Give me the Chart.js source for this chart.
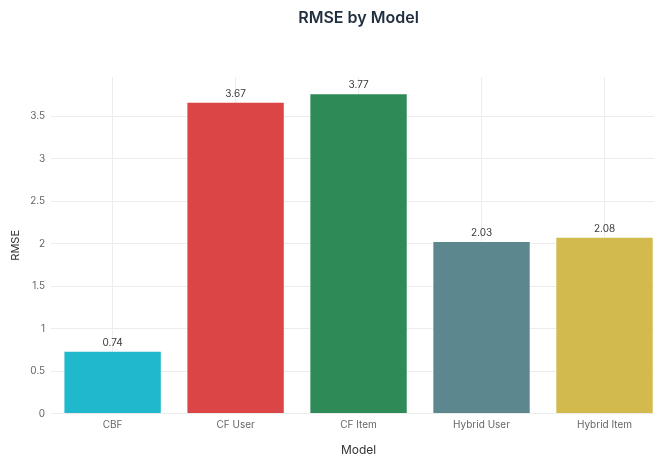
<!DOCTYPE html>
<html>
<head>
<meta charset="utf-8">
<script src="https://cdn.jsdelivr.net/npm/chart.js@4"></script>
<style>
  html, body { margin: 0; padding: 0; background: #fff; overflow: hidden; }
  #wrap { width: 666px; height: 454px; }
</style>
</head>
<body>
<div id="wrap"><canvas id="chart"></canvas></div>
<script>
// Chart data
const models = ['CBF', 'CF User', 'CF Item', 'Hybrid User', 'Hybrid Item'];
const rmse = [0.74, 3.67, 3.77, 2.03, 2.08];
const barColours = ['#1FB8CD', '#DB4545', '#2E8B57', '#5D878F', '#D2BA4C'];
const chartTitle = 'RMSE by Model';
const fontFamily = 'Inter, "Open Sans", Roboto, sans-serif';

// Title centred over the plot area (not the canvas)
const plotTitle = {
    id: 'plotTitle',
    afterDraw(chart) {
        const ctx = chart.ctx;
        const area = chart.chartArea;
        ctx.save();
        ctx.font = '600 16px ' + fontFamily;
        ctx.fillStyle = '#1f2f3f';
        ctx.textAlign = 'center';
        ctx.textBaseline = 'middle';
        ctx.fillText(chartTitle, (area.left + area.right) / 2, 18);
        ctx.restore();
    }
};

// Value labels over each bar
const valueLabels = {
    id: 'valueLabels',
    afterDatasetsDraw(chart) {
        const ctx = chart.ctx;
        const meta = chart.getDatasetMeta(0);
        ctx.save();
        ctx.font = '10px ' + fontFamily;
        ctx.fillStyle = '#3a3a3a';
        ctx.textAlign = 'center';
        ctx.textBaseline = 'bottom';
        meta.data.forEach((bar, i) => {
            ctx.fillText(rmse[i].toFixed(2), bar.x, bar.y - 3);
        });
        ctx.restore();
    }
};

new Chart(document.getElementById('chart'), {
    type: 'bar',
    data: {
        labels: models,
        datasets: [{
            data: rmse,
            backgroundColor: barColours,
            borderColor: 'rgba(255,255,255,0.5)',
            borderWidth: 1,
            categoryPercentage: 1.0,
            barPercentage: 0.8
        }]
    },
    options: {
        responsive: true,
        maintainAspectRatio: false,
        animation: false,
        layout: { padding: { top: 77, left: 9, right: 0, bottom: 0 } },
        plugins: {
            legend: { display: false },
            tooltip: { enabled: false }
        },
        scales: {
            x: {
                grid: { offset: false, color: '#ececec', drawTicks: false },
                border: { display: false },
                ticks: { color: '#666', font: { size: 10, family: fontFamily }, padding: 5 },
                title: { display: true, text: 'Model', color: '#333', font: { size: 12, family: fontFamily }, padding: { top: 8, bottom: -4 } }
            },
            y: {
                min: 0,
                max: 3.96,
                afterBuildTicks(scale) {
                    scale.ticks = scale.ticks.filter(t => Math.abs(t.value * 2 - Math.round(t.value * 2)) < 1e-9);
                },
                grid: { color: '#ececec', drawTicks: false },
                border: { display: false },
                ticks: {
                    stepSize: 0.5,
                    color: '#666',
                    font: { size: 10, family: fontFamily },
                    padding: 6,
                    callback: v => String(Math.round(v * 10) / 10)
                },
                title: { display: true, text: 'RMSE', color: '#333', font: { size: 11, family: fontFamily }, padding: { top: 0, bottom: 2 } }
            }
        }
    },
    plugins: [plotTitle, valueLabels]
});
</script>
</body>
</html>
